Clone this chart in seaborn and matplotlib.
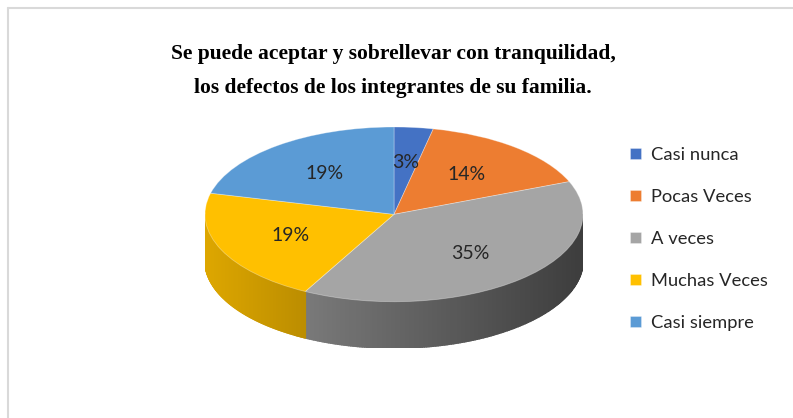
import numpy as np
import matplotlib
matplotlib.use("Agg")
import matplotlib.pyplot as plt
import matplotlib.colors as mcolors
from matplotlib.lines import Line2D
import seaborn as sns

# data
categorias = ["Casi nunca", "Pocas Veces", "A veces", "Muchas Veces", "Casi siempre"]
porcentajes = [3, 14, 35, 19, 19]
etiquetas = ["3%", "14%", "35%", "19%", "19%"]
colores = ["#4472C4", "#ED7D31", "#A5A5A5", "#FFC000", "#5B9BD5"]
titulo = ("Se puede aceptar y sobrellevar con tranquilidad,\n"
          "los defectos de los integrantes de su familia.")

sns.set_style("white")
plt.rcParams["font.family"] = ["Lato", "DejaVu Sans"]

W, H = 793, 418
fig = plt.figure(figsize=(W / 100, H / 100), dpi=100)

# pie axes placed so the ellipse sits where the original one is
depth = 0.53
ax = fig.add_axes([205 / W, (H - 348) / H, 378 / W, (348 - 127) / H])

wedges, texts = ax.pie(porcentajes, colors=colores, startangle=90,
                       counterclock=False, labels=etiquetas,
                       labeldistance=0.6,
                       wedgeprops=dict(linewidth=0.6, edgecolor=(1, 1, 1, 0.35)),
                       textprops=dict(fontsize=14, color="#262626"))
for t in texts:
    t.set_ha("center")
    t.set_va("center")
ax.set_aspect("auto")
ax.set_xlim(-1.0, 1.0)
ax.set_ylim(-1.0 - depth, 1.0)
ax.axis("off")

# side wall of the 3D pie, shaded darker towards the right
for w, c in zip(wedges, colores):
    base = np.array(mcolors.to_rgb(c))
    a = np.linspace(w.theta1, w.theta2, 200)
    for a1, a2 in zip(a[:-1], a[1:]):
        am = np.deg2rad((a1 + a2) / 2)
        if np.sin(am) > 0.0:
            continue
        r1, r2 = np.deg2rad(a1), np.deg2rad(a2)
        xs = [np.cos(r1), np.cos(r2), np.cos(r2), np.cos(r1)]
        ys = [np.sin(r1), np.sin(r2), np.sin(r2) - depth, np.sin(r1) - depth]
        f = np.clip(0.62 - 0.25 * np.cos(am), 0.3, 0.9)
        ax.fill(xs, ys, color=base * f, lw=1.2, ec=base * f, zorder=0)

# title
fig.text(393 / W, 1 - 71 / H, titulo, ha="center", va="center",
         family="Liberation Serif", fontweight="bold", fontsize=15.5,
         linespacing=1.9, color="black")

# legend
leg = fig.legend(wedges, categorias, loc="upper left",
                 bbox_to_anchor=(630 / W, 1 - 147 / H), frameon=False,
                 fontsize=13.2, handlelength=0.6, handleheight=0.6,
                 handletextpad=0.55, labelspacing=1.42, borderpad=0,
                 borderaxespad=0)
for t in leg.get_texts():
    t.set_color("#262626")

# chart area border (top and left visible)
fig.add_artist(Line2D([8 / W, 1.0], [1 - 8 / H, 1 - 8 / H], color="#d9d9d9", lw=1.5))
fig.add_artist(Line2D([8 / W, 8 / W], [0.0, 1 - 8 / H], color="#d9d9d9", lw=1.5))

fig.savefig("out.png", dpi=100)
